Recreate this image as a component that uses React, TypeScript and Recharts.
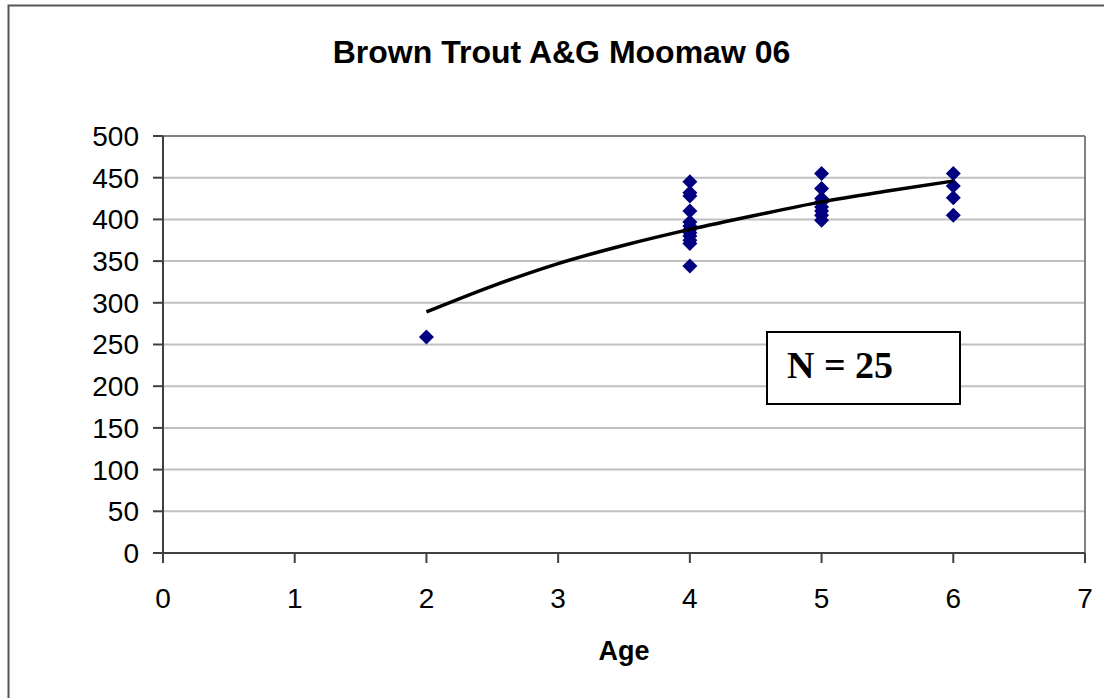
import React from 'react';
import {
  ScatterChart,
  Scatter,
  XAxis,
  YAxis,
  CartesianGrid,
  ReferenceLine,
} from 'recharts';

// ages and lengths
const age2Lengths = [259];
const age4Lengths = [445, 432, 428, 410, 397, 392, 388, 384, 380, 375, 371, 344];
const age5Lengths = [455, 437, 425, 421, 415, 410, 405, 399];
const age6Lengths = [455, 440, 426, 405];

// fitted curve
const trendAges = [2, 2.5, 3, 3.5, 4, 4.5, 5, 5.5, 6];
const trendLengths = [289, 320, 347, 369, 388, 405, 421, 434, 446];

const xTicks = [0, 1, 2, 3, 4, 5, 6, 7];
const yTicks = [0, 50, 100, 150, 200, 250, 300, 350, 400, 450, 500];

const title = 'Brown Trout A&G Moomaw 06';
const xLabel = 'Age';
const sampleNote = 'N = 25';

const fishPoints = [
  ...age2Lengths.map((y) => ({ x: 2, y })),
  ...age4Lengths.map((y) => ({ x: 4, y })),
  ...age5Lengths.map((y) => ({ x: 5, y })),
  ...age6Lengths.map((y) => ({ x: 6, y })),
];
const trendPoints = trendAges.map((x, i) => ({ x, y: trendLengths[i] }));

const FONT = 'Arial, "Liberation Sans", sans-serif';

function Diamond(props: any) {
  const { cx, cy } = props;
  const r = 7.5;
  return (
    <path
      d={`M${cx},${cy - r}L${cx + r},${cy}L${cx},${cy + r}L${cx - r},${cy}Z`}
      fill="#000080"
    />
  );
}

const NoDot = () => <g />;

export default function App() {
  return (
    <div
      style={{
        position: 'absolute',
        left: 0,
        top: 0,
        width: 1104,
        height: 698,
        overflow: 'hidden',
        background: '#fff',
      }}
    >
      <ScatterChart
        width={1104}
        height={698}
        margin={{ top: 136, right: 19, bottom: 45, left: 0 }}
      >
        <CartesianGrid vertical={false} stroke="#c0c0c0" strokeWidth={2} />
        <XAxis
          type="number"
          dataKey="x"
          domain={[0, 7]}
          ticks={xTicks}
          interval={0}
          height={100}
          axisLine={{ stroke: '#404040', strokeWidth: 2 }}
          tickLine={{ stroke: '#404040', strokeWidth: 2 }}
          tickSize={10}
          tickMargin={25}
          tick={{ fill: '#000', fontSize: 28, fontFamily: FONT }}
          label={{
            value: xLabel,
            position: 'insideBottom',
            offset: -7,
            fill: '#000',
            fontSize: 27,
            fontWeight: 'bold',
            fontFamily: FONT,
          }}
        />
        <YAxis
          type="number"
          dataKey="y"
          domain={[0, 500]}
          ticks={yTicks}
          interval={0}
          width={163}
          axisLine={{ stroke: '#404040', strokeWidth: 2 }}
          tickLine={{ stroke: '#404040', strokeWidth: 2 }}
          tickSize={10}
          tickMargin={14}
          tick={{ fill: '#000', fontSize: 28, fontFamily: FONT }}
        />
        <ReferenceLine y={500} stroke="#808080" strokeWidth={2} />
        <ReferenceLine x={7} stroke="#808080" strokeWidth={2} />
        <Scatter
          data={fishPoints}
          shape={<Diamond />}
          isAnimationActive={false}
        />
        <Scatter
          data={trendPoints}
          shape={<NoDot />}
          line={{ stroke: '#000', strokeWidth: 3.5 }}
          lineJointType="monotoneX"
          isAnimationActive={false}
        />
      </ScatterChart>
      <svg
        width={1104}
        height={698}
        style={{ position: 'absolute', left: 0, top: 0, pointerEvents: 'none' }}
      >
        <rect x={8.5} y={5.5} width={1200} height={800} fill="none" stroke="#555" strokeWidth={2} />
        <text
          x={561.5}
          y={63}
          textAnchor="middle"
          fontFamily={FONT}
          fontWeight="bold"
          fontSize={32}
          fill="#000"
        >
          {title}
        </text>
        <rect x={767} y={332} width={193} height={72} fill="#fff" stroke="#000" strokeWidth={2} />
        <text
          x={787}
          y={378}
          fontFamily='"Times New Roman", "Liberation Serif", serif'
          fontWeight="bold"
          fontSize={38}
          fill="#000"
        >
          {sampleNote}
        </text>
      </svg>
    </div>
  );
}
